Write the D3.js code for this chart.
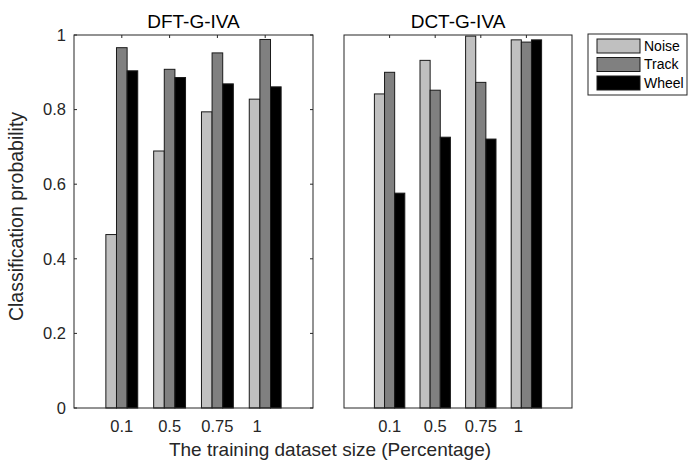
<!DOCTYPE html>
<html><head><meta charset="utf-8">
<script src="https://cdn.jsdelivr.net/npm/d3@7"></script>
<style>body{margin:0;background:#fff} text{font-family:"Liberation Sans",Arial,sans-serif;fill:#262626}</style>
</head><body><svg id="c" width="697" height="468"></svg>
<script>
const categories=["0.1","0.5","0.75","1"];
const series=["Noise","Track","Wheel"];
const colors=["#c0c0c0","#808080","#000000"];
const dftNoise=[0.465,0.689,0.794,0.828];
const dftTrack=[0.966,0.908,0.952,0.988];
const dftWheel=[0.904,0.886,0.869,0.861];
const dctNoise=[0.842,0.932,0.997,0.987];
const dctTrack=[0.900,0.852,0.873,0.981];
const dctWheel=[0.576,0.726,0.721,0.987];
const yTicks=[0,0.2,0.4,0.6,0.8,1];
const yTickLabels=["0","0.2","0.4","0.6","0.8","1"];

(function(){
const svg=d3.select("#c");
const plotTop=35,plotBottom=408;
const y=d3.scaleLinear().domain([0,1]).range([plotBottom,plotTop]);
const panels=[
 {title:"DFT-G-IVA",data:[dftNoise,dftTrack,dftWheel],x0:74,x1:313,showY:true},
 {title:"DCT-G-IVA",data:[dctNoise,dctTrack,dctWheel],x0:344,x1:572,showY:false}
];
const groupW=3/4.5, barW=groupW/3;
const axisCol="#262626";
panels.forEach(p=>{
  const x=d3.scaleLinear().domain([0,categories.length+1]).range([p.x0,p.x1]);
  const g=svg.append("g");
  p.data.forEach((vals,si)=>{
    g.selectAll(null).data(vals).enter().append("rect")
      .attr("x",(d,i)=>x(i+1+(si-1)*barW-barW/2))
      .attr("width",x(barW)-x(0))
      .attr("y",d=>y(d))
      .attr("height",d=>y(0)-y(d))
      .attr("fill",colors[si])
      .attr("stroke","#1a1a1a").attr("stroke-width",1);
  });
  g.append("rect").attr("x",p.x0).attr("y",plotTop).attr("width",p.x1-p.x0).attr("height",plotBottom-plotTop)
    .attr("fill","none").attr("stroke",axisCol).attr("stroke-width",1);
  categories.forEach((c,i)=>{
    g.append("line").attr("x1",x(i+1)).attr("x2",x(i+1)).attr("y1",plotTop).attr("y2",plotTop+3).attr("stroke",axisCol);
    g.append("text").attr("x",x(i+1)+(c==="1"?-8:0)).attr("y",432).attr("text-anchor","middle")
      .attr("font-size",16.5).text(c);
  });
  if(p.showY){
    yTicks.forEach((t,i)=>{
      g.append("line").attr("x1",p.x0).attr("x2",p.x0+3).attr("y1",y(t)).attr("y2",y(t)).attr("stroke",axisCol);
      g.append("line").attr("x1",p.x1).attr("x2",p.x1-3).attr("y1",y(t)).attr("y2",y(t)).attr("stroke",axisCol);
      g.append("text").attr("x",p.x0-8).attr("y",y(t)).attr("dy","0.35em").attr("text-anchor","end")
        .attr("font-size",16.5).text(yTickLabels[i]);
    });
  }
  g.append("text").attr("x",(p.x0+p.x1)/2).attr("y",28).attr("text-anchor","middle")
    .attr("font-size",19).style("fill","#000").text(p.title);
});
svg.append("text").attr("x",330).attr("y",456).attr("text-anchor","middle").attr("font-size",19)
  .text("The training dataset size (Percentage)");
svg.append("text").attr("transform","translate(23,216.5) rotate(-90)").attr("text-anchor","middle").attr("font-size",19.5)
  .text("Classification probability");
const lg=svg.append("g");
lg.append("rect").attr("x",588).attr("y",34).attr("width",99).attr("height",61).attr("fill","#fff").attr("stroke",axisCol);
series.forEach((s,i)=>{
  lg.append("rect").attr("x",597).attr("y",39+i*18.5).attr("width",43).attr("height",14)
    .attr("fill",colors[i]).attr("stroke","#1a1a1a");
  lg.append("text").attr("x",644).attr("y",46+i*18.5).attr("dy","0.35em").attr("font-size",14).style("fill","#000").text(s);
});
})();
</script></body></html>
